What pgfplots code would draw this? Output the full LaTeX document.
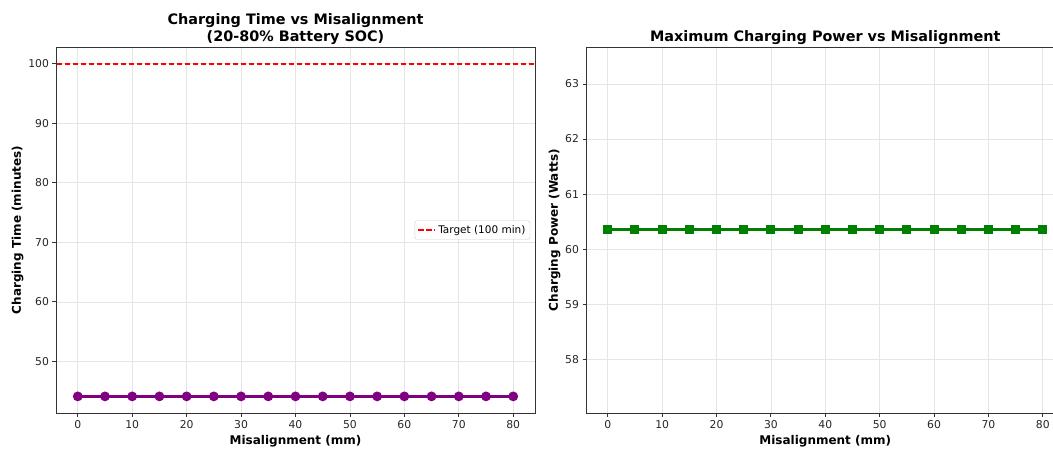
\documentclass[border=0pt]{standalone}
\usepackage{pgfplots}
\pgfplotsset{compat=1.18}
\usepackage{fontspec}
\setmainfont{DejaVu Sans}
\definecolor{mpurple}{HTML}{800080}
\definecolor{mgreen}{HTML}{008000}
\definecolor{spine}{HTML}{333333}
\definecolor{mred}{HTML}{FF0000}
\pgfplotsset{
  base/.style={
    scale only axis,
    width=479pt, height=366pt,
    xmin=-4, xmax=84,
    xtick={0,10,...,80},
    /pgf/number format/assume math mode=true,
    ticklabel style={font=\fontsize{10.8}{12}\selectfont, text=black!85},
    grid=major,
    grid style={line width=0.6pt, draw=black!10},
    axis line style={draw=spine, line width=0.9pt},
    tick style={draw=spine, line width=0.8pt},
    tick align=outside,
    major tick length=3.5pt,
    xtick pos=bottom, ytick pos=left,
    xlabel={\bfseries Misalignment (mm)},
    label style={font=\fontsize{12}{14}\selectfont},
    title style={font=\fontsize{14.4}{16.5}\selectfont\bfseries, align=center},
    xlabel style={yshift=0pt},
    ylabel style={yshift=-2pt},
  }
}
\begin{document}
\begin{tikzpicture}
\useasboundingbox (0,0) rectangle (1053pt,448pt);
\begin{axis}[base,
  at={(56pt,35pt)}, anchor=south west,
  ymin=41.34, ymax=102.8,
  ytick={50,60,70,80,90,100},
  ylabel={\bfseries Charging Time (minutes)},
  title={Charging Time vs Misalignment\\(20-80\% Battery SOC)},
  title style={yshift=-7pt},
  legend style={at={(0.99,0.5)}, anchor=east, font=\fontsize{10.5}{12}\selectfont,
    draw=black!20, rounded corners=2pt, inner sep=2.5pt},
  legend cell align=left,
]
\addplot[color=mred, line width=1.8pt, dash pattern=on 5.5pt off 2.5pt, mark=none]
  table[row sep=\\] {x y\\ -3.9 100\\ 83.9 100\\};
\addlegendentry{Target (100 min)}
\addplot[draw=mpurple, line width=3pt, mark=*, mark size=3.3pt, mark options={solid, fill=mpurple, draw=mpurple}, forget plot]
  coordinates {(0,44.13)(5,44.13)(10,44.13)(15,44.13)(20,44.13)(25,44.13)(30,44.13)(35,44.13)(40,44.13)(45,44.13)(50,44.13)(55,44.13)(60,44.13)(65,44.13)(70,44.13)(75,44.13)(80,44.13)};
\end{axis}
\begin{axis}[base,
  at={(586pt,35pt)}, anchor=south west,
  width=478.5pt,
  ymin=57.03, ymax=63.67,
  ytick={58,59,60,61,62,63},
  ylabel={\bfseries Charging Power (Watts)},
  title={Maximum Charging Power vs Misalignment},
  title style={yshift=-7pt},
]
\addplot[draw=mgreen, line width=3pt, mark=square*, mark size=3pt, mark options={solid, fill=mgreen, draw=mgreen}]
  coordinates {(0,60.35)(5,60.35)(10,60.35)(15,60.35)(20,60.35)(25,60.35)(30,60.35)(35,60.35)(40,60.35)(45,60.35)(50,60.35)(55,60.35)(60,60.35)(65,60.35)(70,60.35)(75,60.35)(80,60.35)};
\end{axis}
\end{tikzpicture}
\end{document}
